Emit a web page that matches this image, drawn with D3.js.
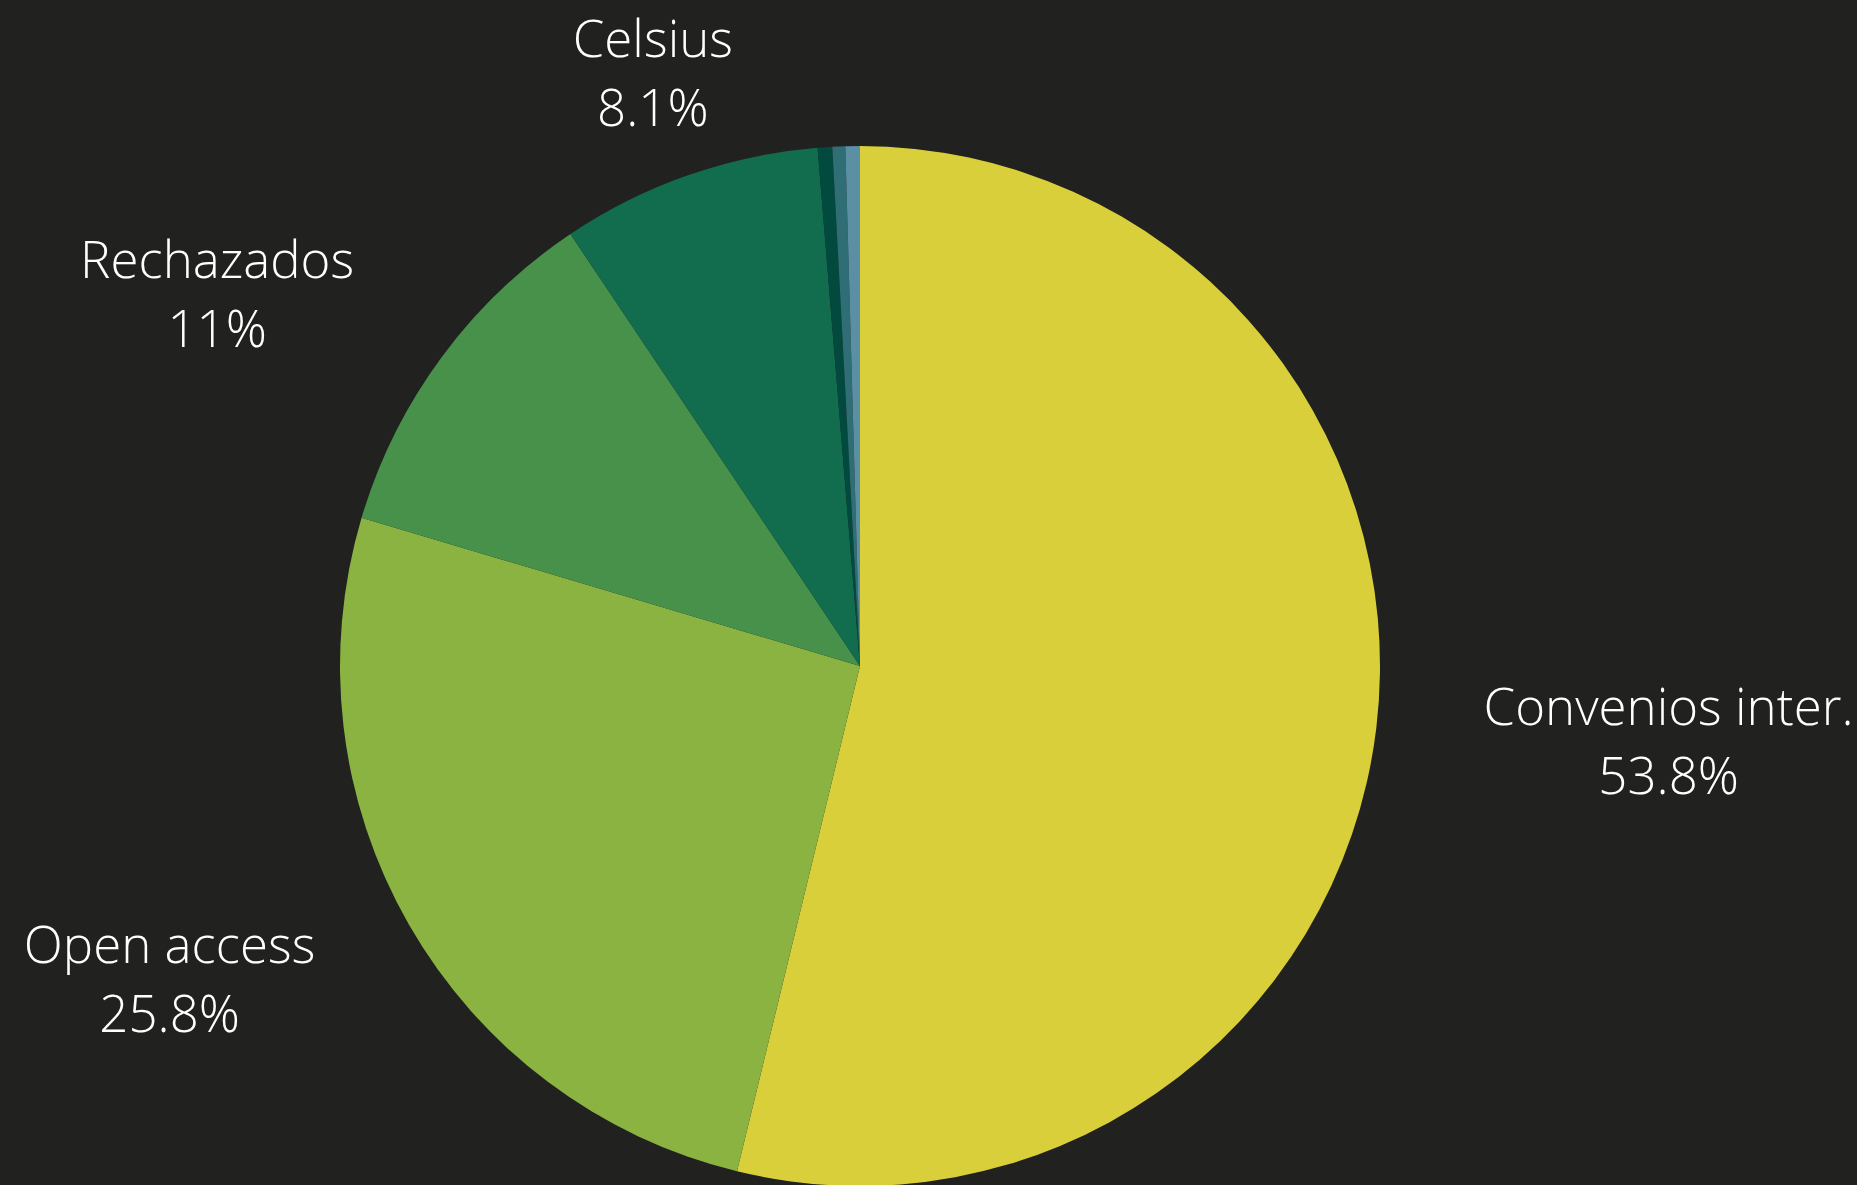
<!DOCTYPE html>
<html>
<head>
<meta charset="utf-8">
<script src="https://cdn.jsdelivr.net/npm/d3@7"></script>
<style>
  html, body { margin: 0; padding: 0; background: #212120; overflow: hidden; }
  svg { display: block; }
  .lbl { fill: #ffffff; font-family: "Open Sans Light", "Open Sans", sans-serif; font-weight: 300; font-size: 51px; }
</style>
</head>
<body>
<svg class="pie-chart" width="1857" height="1185"></svg>
<script>
// slice data, clockwise from 12 o'clock
var categories = ["Convenios inter.", "Open access", "Rechazados", "Celsius", "Otros 1", "Otros 2", "Otros 3"];
var values = [53.8, 25.8, 11, 8.1, 0.45, 0.4, 0.45];
var labels = ["53.8%", "25.8%", "11%", "8.1%", "", "", ""];
var colors = ["#d9cf3a", "#8ab342", "#47914b", "#126c4e", "#024a3e", "#2e6e74", "#5a8fa4"];

var svg = d3.select(".pie-chart"),
    cx = 860, cy = 666,
    radius = 520,
    labelRadius = 628,
    lineGap = 69;

var g = svg.append("g").attr("transform", "translate(" + cx + "," + cy + ")");

var pie = d3.pie().sort(null).value(function(d) { return d.value; });

var data = categories.map(function(c, i) {
  return {name: c, value: values[i], label: labels[i], color: colors[i]};
});

var arc = d3.arc().innerRadius(0).outerRadius(radius);
var arcs = pie(data);

g.selectAll(".slice")
  .data(arcs)
  .enter().append("path")
  .attr("class", "slice")
  .attr("d", arc)
  .attr("fill", function(d) { return d.data.color; });

// outside labels: two centred lines, block edge sits on the label radius
var lbl = g.selectAll(".lbl")
  .data(arcs.filter(function(d) { return d.data.label !== ""; }))
  .enter().append("text")
  .attr("class", "lbl")
  .attr("text-anchor", "middle");

lbl.append("tspan")
  .attr("x", 0)
  .attr("y", 0)
  .text(function(d) { return d.data.name; });

lbl.append("tspan")
  .attr("x", 0)
  .attr("y", lineGap)
  .text(function(d) { return d.data.label; });

lbl.attr("transform", function(d) {
  var a = (d.startAngle + d.endAngle) / 2;
  var s = Math.sin(a);
  var x = s * labelRadius,
      y = -Math.cos(a) * labelRadius;
  var w = 0;
  d3.select(this).selectAll("tspan").each(function() {
    w = Math.max(w, this.getComputedTextLength());
  });
  if (Math.abs(s) >= 0.5) x += (s > 0 ? 1 : -1) * w / 2;
  return "translate(" + x + "," + (y - 16) + ")";
});
</script>
</body>
</html>
